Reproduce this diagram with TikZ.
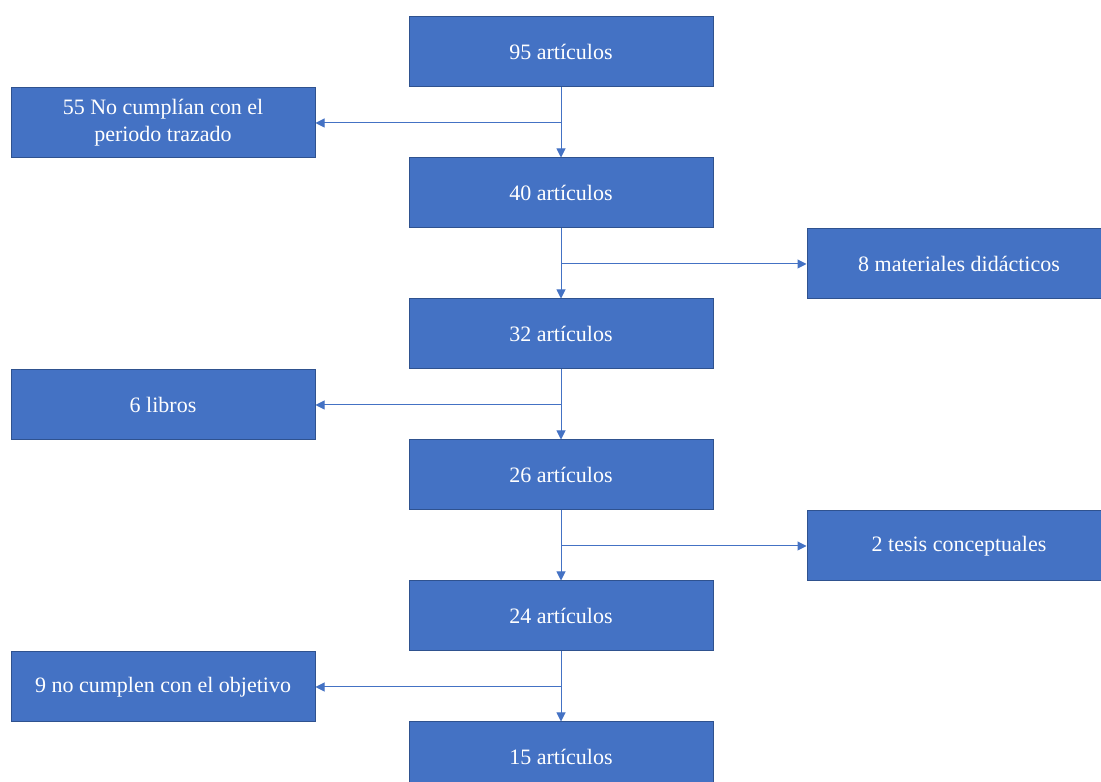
\documentclass[tikz,border=0pt]{standalone}
\usepackage{fontspec}
\setmainfont{Liberation Serif}
\usetikzlibrary{positioning}
\usetikzlibrary{arrows.meta}

\definecolor{boxfill}{HTML}{4472C4}
\definecolor{boxline}{HTML}{2F528F}

\begin{document}
\begin{tikzpicture}[
  every node/.style={font=\rmfamily\fontsize{22}{27}\selectfont, text=white},
  stage/.style={rectangle, fill=boxfill, draw=boxline, line width=1pt,
    minimum width=304pt, minimum height=70pt, inner sep=0pt, align=center},
  flow/.style={draw=boxfill, line width=1pt, -{Triangle[length=9pt,width=9pt]}},
  node distance=70pt,
]
  \useasboundingbox (0,0) rectangle (1101pt,782pt);

  % main column
  \node[stage] (a95) at (561pt,730pt) {95 artículos};
  \node[stage, below=of a95] (a40) {40 artículos};
  \node[stage, below=of a40] (a32) {32 artículos};
  \node[stage, below=of a32] (a26) {26 artículos};
  \node[stage, below=of a26] (a24) {24 artículos};
  \node[stage, below=of a24] (a15) {15 artículos};

  % excluded
  \node[stage, below left=0pt and 93pt of a95.south west] (periodo) {55 No cumplían con el\\periodo trazado};
  \node[stage, below right=0pt and 93pt of a40.south east] (materiales) {8 materiales didácticos};
  \node[stage, below left=0pt and 93pt of a32.south west] (libros) {6 libros};
  \node[stage, below right=0pt and 93pt of a26.south east] (tesis) {2 tesis conceptuales};
  \node[stage, below left=0pt and 93pt of a24.south west] (objetivo) {9 no cumplen con el objetivo};

  \draw[flow] (a95) -- (a40);
  \draw[flow] (a40) -- (a32);
  \draw[flow] (a32) -- (a26);
  \draw[flow] (a26) -- (a24);
  \draw[flow] (a24) -- (a15);

  \draw[flow] (a95.south |- periodo) -- (periodo);
  \draw[flow] (a40.south |- materiales) -- (materiales);
  \draw[flow] (a32.south |- libros) -- (libros);
  \draw[flow] (a26.south |- tesis) -- (tesis);
  \draw[flow] (a24.south |- objetivo) -- (objetivo);
\end{tikzpicture}
\end{document}
